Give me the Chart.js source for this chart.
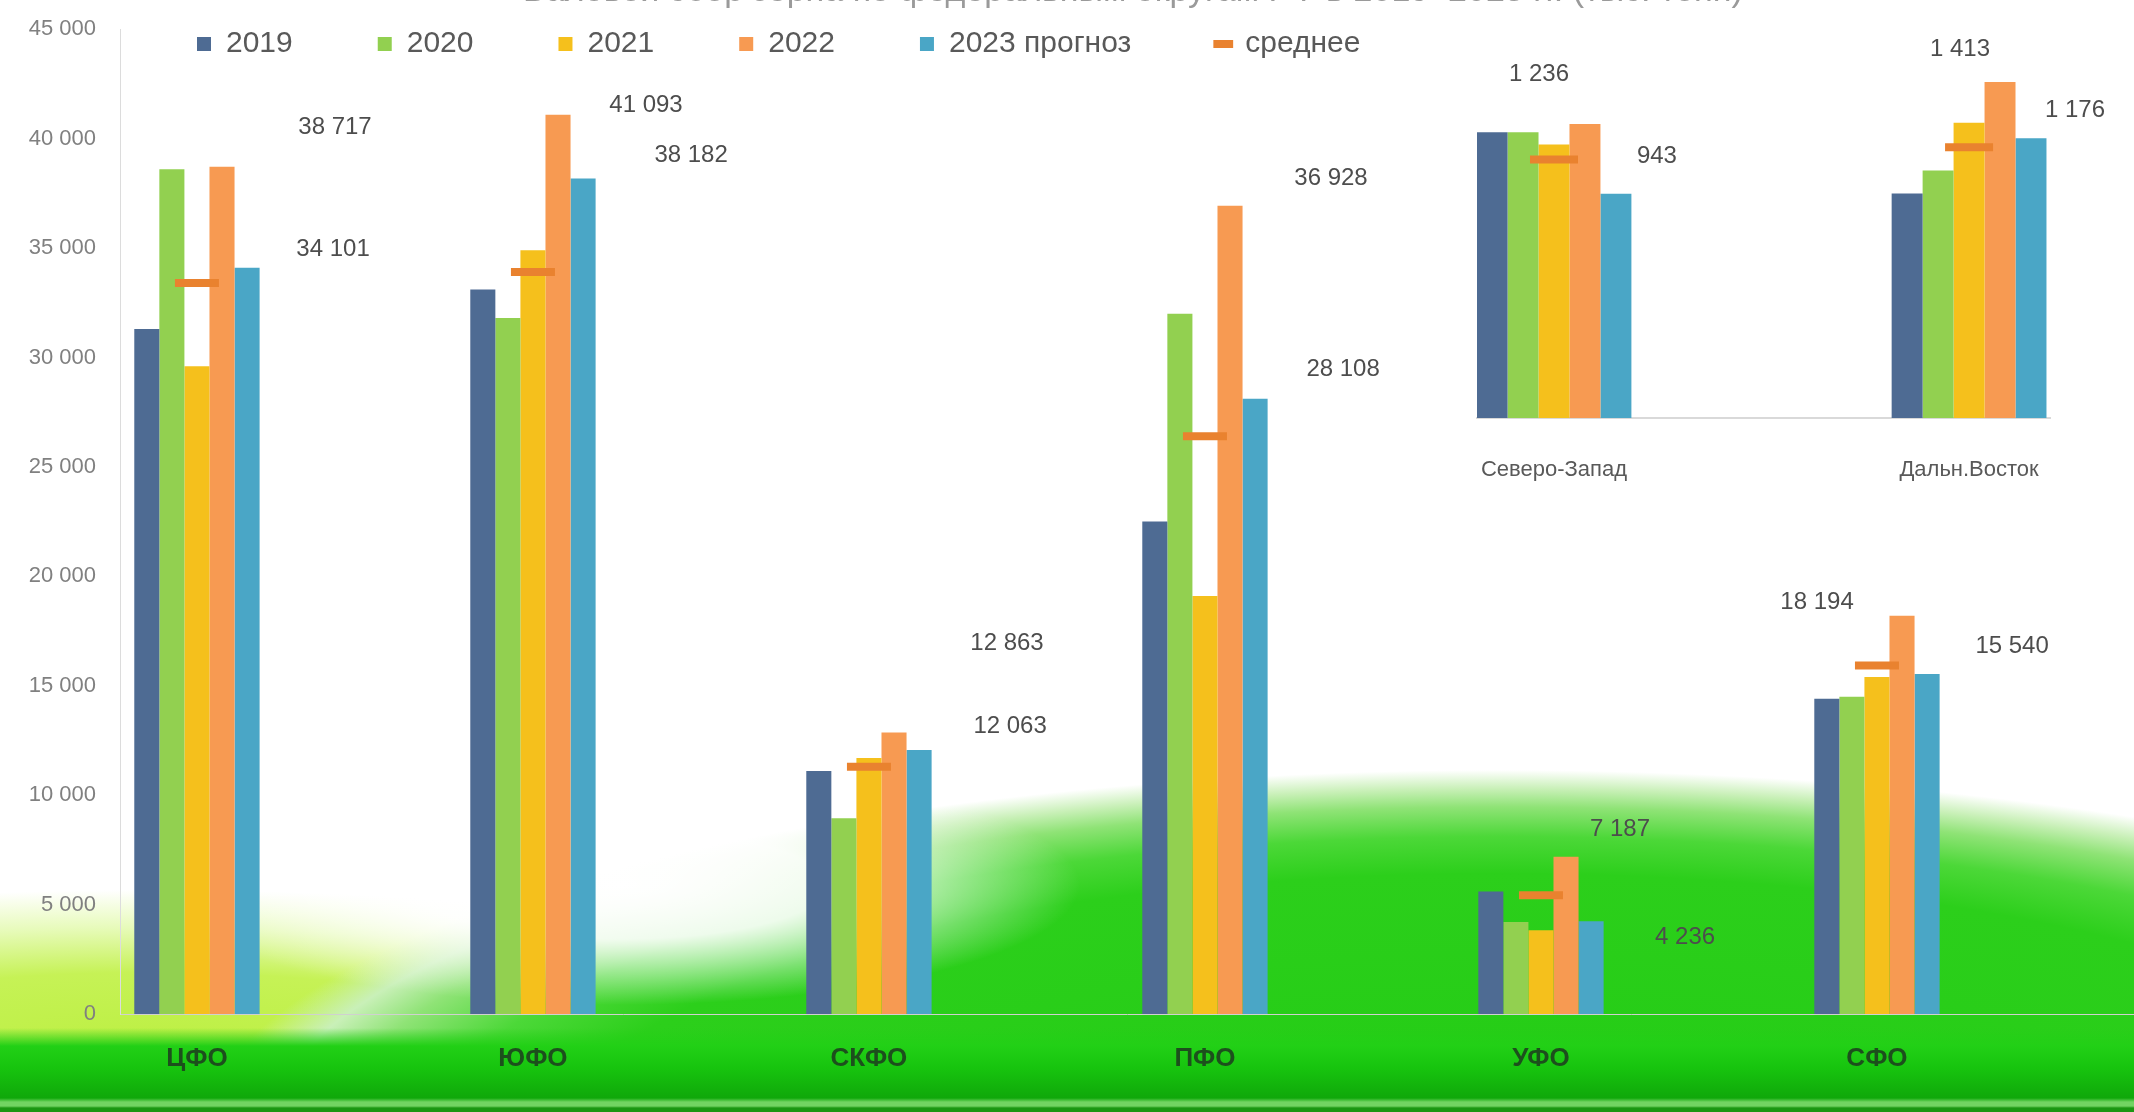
<!DOCTYPE html>
<html>
<head>
<meta charset="utf-8">
<script src="https://cdn.jsdelivr.net/npm/chart.js@4.4.0/dist/chart.umd.min.js"></script>
<style>
html, body { margin: 0; padding: 0; width: 2134px; height: 1112px; overflow: hidden; }
body {
  background:
    linear-gradient(180deg, rgba(0,0,0,0) 0px, rgba(0,0,0,0) 1028px, #22d016 1046px, #17c40e 1068px, #0fa80a 1098px, #72d462 1102px, #72d462 1106px, #1b9612 1108px),
    radial-gradient(ellipse 460px 120px at 620px 885px, rgba(255,255,255,1) 0%, rgba(255,255,255,0.9) 45%, rgba(255,255,255,0) 100%),
    radial-gradient(ellipse 1300px 370px at 1500px 1140px, #22cc14 0%, #2ccf1b 72%, #4cd838 82%, #8fe376 90%, #c9f0b8 95%, rgba(255,255,255,0) 100%),
    radial-gradient(ellipse 820px 150px at 150px 1040px, #bdf044 0%, #c6f256 45%, rgba(215,248,140,0.6) 75%, rgba(255,255,255,0) 100%),
    #ffffff;
}
#main { position: absolute; left: 0; top: 0; }
#inset { position: absolute; left: 1400px; top: 0; }
</style>
</head>
<body>
<canvas id="main" width="2134" height="1112"></canvas>
<canvas id="inset" width="734" height="500"></canvas>
<script>
// ---------- DATA ----------
const titleText = 'Валовой сбор зерна по федеральным округам РФ в 2019–2023 гг. (тыс. тонн)';
const seriesNames = ['2019', '2020', '2021', '2022', '2023 прогноз', 'среднее'];

const categories = ['ЦФО', 'ЮФО', 'СКФО', 'ПФО', 'УФО', 'СФО'];
const values2019 = [31300, 33100, 11100, 22500, 5600, 14400];
const values2020 = [38600, 31800, 8950, 32000, 4200, 14500];
const values2021 = [29600, 34900, 11700, 19100, 3830, 15400];
const values2022 = [38717, 41093, 12863, 36928, 7187, 18194];
const values2023 = [34101, 38182, 12063, 28108, 4236, 15540];
const valuesAvg  = [33400, 33900, 11300, 26400, 5430, 15930];
const yTickValues = [0, 5000, 10000, 15000, 20000, 25000, 30000, 35000, 40000, 45000];

const insetCategories = ['Северо-Запад', 'Дальн.Восток'];
const inset2019 = [1201, 944];
const inset2020 = [1201, 1041];
const inset2021 = [1150, 1241];
const inset2022 = [1236, 1413];
const inset2023 = [943, 1176];
const insetAvg  = [1087, 1138];

// ---------- STYLE ----------
const FONT = "'Liberation Sans', Arial, sans-serif";
Chart.defaults.font.family = FONT;
const colors = ['#4e6b93', '#92d050', '#f5c01c', '#f79a52', '#4aa6c6', '#e9822f'];

// label nudges (relative to bar top) for 2022 and 2023 labels
const mainNudge2022 = [[113,-39],[88,-9],[113,-89],[101,-27],[54,-27],[-85,-13]];
const mainNudge2023 = [[86,-18],[108,-23],[91,-24],[88,-29],[94,16],[85,-28]];
const insetNudge2022 = [[-46,-50],[-40,-33]];
const insetNudge2023 = [[41,-37],[44,-28]];

const fmt = v => String(Math.round(v)).replace(/\B(?=(\d{3})+(?!\d))/g, ' ');
const toPts = arr => arr.map((v, i) => ({ x: i, y: v }));

function makeDatasets(sets, avg, markerR) {
  const ds = sets.map((arr, k) => ({
    type: 'bar',
    label: seriesNames[k],
    data: toPts(arr),
    backgroundColor: colors[k],
    borderWidth: 0,
    categoryPercentage: 0.373,
    barPercentage: 1.0,
    pointStyle: 'rect',
    order: 1
  }));
  ds.push({
    type: 'line',
    label: seriesNames[5],
    data: toPts(avg),
    showLine: false,
    pointStyle: 'line',
    pointRadius: markerR,
    pointHoverRadius: markerR,
    pointBorderWidth: 8,
    pointBorderColor: colors[5],
    pointBackgroundColor: colors[5],
    borderColor: colors[5],
    backgroundColor: colors[5],
    order: 0
  });
  return ds;
}

const valueLabels = {
  id: 'valueLabels',
  afterDatasetsDraw(chart, args, opts) {
    const ctx = chart.ctx;
    ctx.save();
    ctx.font = `${opts.size}px ${FONT}`;
    ctx.fillStyle = opts.color;
    ctx.textAlign = 'center';
    ctx.textBaseline = 'middle';
    opts.sets.forEach(({ ds, nudge }) => {
      const meta = chart.getDatasetMeta(ds);
      const data = chart.data.datasets[ds].data;
      meta.data.forEach((el, i) => {
        ctx.fillText(fmt(data[i].y), el.x + nudge[i][0], el.y + nudge[i][1]);
      });
    });
    ctx.restore();
  }
};

// legend drawn over the plot: it takes no layout height and is placed explicitly
const legendShift = {
  id: 'legendShift',
  beforeLayout(chart) {
    const lg = chart.legend;
    if (lg && !lg.__patched) {
      const f = lg.fit;
      lg.fit = function () { f.call(this); this.__realHeight = this.height; this.height = 0; };
      lg.__patched = true;
    }
  },
  afterLayout(chart, args, opts) {
    const lg = chart.legend;
    if (!lg) return;
    const w = lg.width;
    const h = lg.__realHeight || 200;
    lg.left = opts.left; lg.right = opts.left + w;
    lg.top = opts.top; lg.bottom = opts.top + h;
  }
};

const topTitle = {
  id: 'topTitle',
  afterDraw(chart) {
    const ctx = chart.ctx;
    ctx.save();
    ctx.font = `34px ${FONT}`;
    ctx.fillStyle = '#9a9a9a';
    ctx.textAlign = 'center';
    ctx.textBaseline = 'alphabetic';
    ctx.fillText(titleText, 1133, 1);
    ctx.restore();
  }
};

// ---------- MAIN CHART ----------
new Chart(document.getElementById('main'), {
  type: 'bar',
  data: {
    datasets: makeDatasets([values2019, values2020, values2021, values2022, values2023], valuesAvg, 22)
  },
  plugins: [valueLabels, legendShift, topTitle],
  options: {
    responsive: false,
    animation: false,
    devicePixelRatio: 1,
    layout: { autoPadding: false, padding: { top: 23, left: 0, right: 0, bottom: 0 } },
    scales: {
      x: {
        type: 'linear',
        min: -0.229,
        max: 5.765,
        offset: false,
        afterBuildTicks: s => { s.ticks = categories.map((_, i) => ({ value: i })); },
        afterFit: s => { s.height = 98; },
        grid: { display: false, offset: false },
        border: { display: true, color: '#d0d0d0' },
        ticks: {
          padding: 21, autoSkip: false, maxRotation: 0,
          font: { size: 26, weight: 'bold' }, color: '#1d4f1d',
          callback: v => categories[v] ?? ''
        }
      },
      y: {
        min: 0, max: 45000,
        afterBuildTicks: s => { s.ticks = yTickValues.map(v => ({ value: v })); },
        afterFit: s => { s.width = 120; },
        grid: { display: false },
        border: { display: true, color: '#dcdcdc' },
        ticks: { padding: 16, font: { size: 22 }, color: '#808080', callback: v => fmt(v) }
      }
    },
    plugins: {
      legend: {
        position: 'top',
        align: 'start',
        labels: {
          usePointStyle: true, boxWidth: 14, boxHeight: 14, padding: 85,
          font: { size: 30 }, color: '#595959',
          sort: (a, b) => a.datasetIndex - b.datasetIndex
        }
      },
      legendShift: { left: 112, top: -56 },
      tooltip: { enabled: false },
      valueLabels: { size: 24, color: '#4d4d4d', sets: [{ ds: 3, nudge: mainNudge2022 }, { ds: 4, nudge: mainNudge2023 }] }
    }
  }
});

// ---------- INSET CHART ----------
new Chart(document.getElementById('inset'), {
  type: 'bar',
  data: {
    datasets: makeDatasets([inset2019, inset2020, inset2021, inset2022, inset2023], insetAvg, 24)
  },
  plugins: [valueLabels],
  options: {
    responsive: false,
    animation: false,
    devicePixelRatio: 1,
    layout: { autoPadding: false, padding: { top: 7, left: 77, right: 84, bottom: 0 } },
    scales: {
      x: {
        type: 'linear',
        min: -0.1855,
        max: 1.195,
        offset: false,
        afterBuildTicks: s => { s.ticks = insetCategories.map((_, i) => ({ value: i })); },
        afterFit: s => { s.height = 82; },
        grid: { display: false, offset: false },
        border: { display: true, color: '#d9d9d9', width: 2 },
        ticks: {
          padding: 31, autoSkip: false, maxRotation: 0,
          font: { size: 22 }, color: '#595959',
          callback: v => insetCategories[v] ?? ''
        }
      },
      y: { display: false, min: 0, max: 1728 }
    },
    plugins: {
      legend: { display: false },
      tooltip: { enabled: false },
      valueLabels: { size: 24, color: '#4d4d4d', sets: [{ ds: 3, nudge: insetNudge2022 }, { ds: 4, nudge: insetNudge2023 }] }
    }
  }
});
</script>
</body>
</html>
